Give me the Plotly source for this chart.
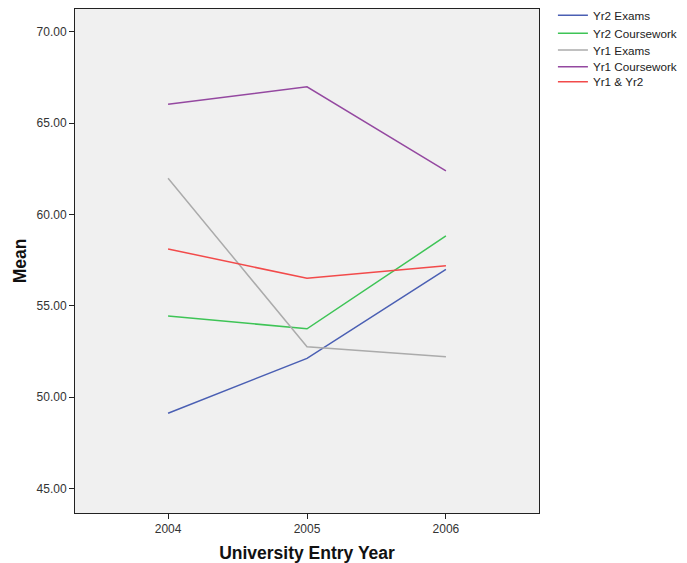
import plotly.graph_objects as go

years = [2004, 2005, 2006]
series_names = ["Yr2 Exams", "Yr2 Coursework", "Yr1 Exams", "Yr1 Coursework", "Yr1 & Yr2"]
yr2_exams = [49.11, 52.12, 56.99]
yr2_coursework = [54.44, 53.74, 58.82]
yr1_exams = [61.98, 52.75, 52.21]
yr1_coursework = [66.03, 66.99, 62.38]
yr1_yr2 = [58.11, 56.50, 57.19]
y_ticks = [45, 50, 55, 60, 65, 70]
y_tick_labels = ["45.00", "50.00", "55.00", "60.00", "65.00", "70.00"]

colors = ["#4a5fb3", "#3ec456", "#ababab", "#9448a0", "#f24a4a"]
values = [yr2_exams, yr2_coursework, yr1_exams, yr1_coursework, yr1_yr2]
legend_ids = ["legend", "legend2", "legend3", "legend4", "legend5"]
legend_y = [0.9875, 0.9518, 0.9187, 0.8855, 0.8558]

font_family = "Liberation Sans, Arial, sans-serif"

fig = go.Figure()
for name, vals, c, lid in zip(series_names, values, colors, legend_ids):
    fig.add_trace(go.Scatter(x=years, y=vals, name=name, mode="lines",
                             line=dict(color=c, width=1.5), legend=lid))

legend_layout = {}
for lid, ly in zip(legend_ids, legend_y):
    legend_layout[lid] = dict(x=1.030, y=ly, xanchor="left", yanchor="middle",
                              font=dict(size=11.7, color="#222222", family=font_family),
                              itemwidth=30, bgcolor="rgba(0,0,0,0)", borderwidth=0)

fig.update_layout(
    width=679, height=555,
    margin=dict(l=67, r=148, t=1, b=50, autoexpand=False),
    paper_bgcolor="white",
    plot_bgcolor="#f0f0f0",
    font=dict(family=font_family, size=12, color="#333333"),
    showlegend=True,
    xaxis=dict(range=[2003.33, 2006.67], tickvals=years, ticktext=[str(y) for y in years],
               tickfont=dict(size=12, color="#333333"),
               showgrid=False, zeroline=False, showline=True, linecolor="#222222",
               linewidth=1, mirror=True, ticks="outside", ticklen=5, tickcolor="#222222",
               title=dict(text="<b>University Entry Year</b>", font=dict(size=17.5, color="#111111"),
                          standoff=11)),
    yaxis=dict(range=[43.65, 71.25], tickvals=y_ticks, ticktext=y_tick_labels,
               tickfont=dict(size=12, color="#333333"),
               showgrid=False, zeroline=False, showline=True, linecolor="#222222",
               linewidth=1, mirror=True, ticks="outside", ticklen=5, tickcolor="#222222",
               title=dict(text="<b>Mean</b>", font=dict(size=17.5, color="#111111"), standoff=5)),
    **legend_layout,
)
fig.write_html("out.html")
